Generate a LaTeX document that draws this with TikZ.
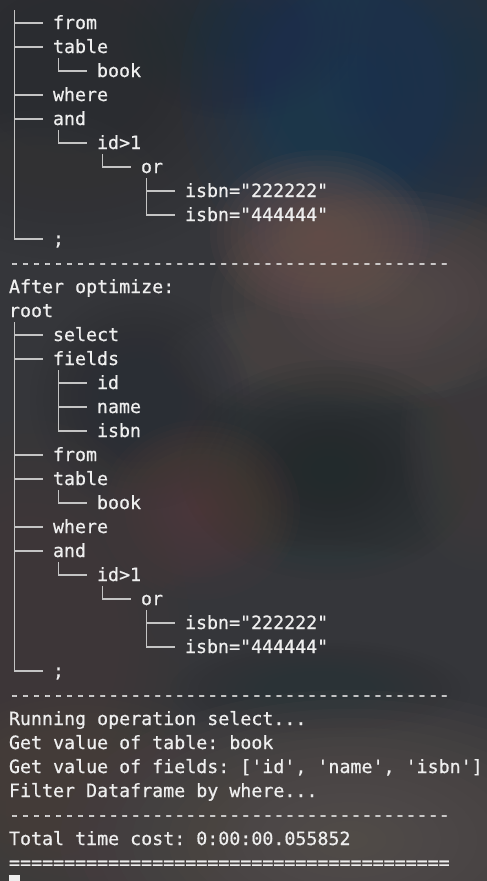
\documentclass[tikz,border=0pt]{standalone}
\usepackage{fontspec}
\setmonofont{DejaVu Sans Mono}[FakeBold=0.6]
\definecolor{bgbase}{HTML}{35363A}
\definecolor{termtext}{HTML}{EEEEEE}
\definecolor{treecol}{HTML}{C4C4C4}
\newcommand\termline[4]{\node[txt] (#1) at ({9+11*#2},{29+24*#3}) {#4};}
\newcommand\branch[2]{\draw[tree] ({14.5+11*#1},{23+24*#2}) -- ({42+11*#1},{23+24*#2});}
\newcommand\trunk[3]{\draw[tree] ({14.5+11*#1},{11+24*#2}) -- ({14.5+11*#1},{23+24*#3});}
\newcommand\blob[5]{\foreach \k in {1,...,16}{\fill[fill={rgb,255:#5}, fill opacity=0.09] (#1,#2) ellipse ({#3*\k/16} and {#4*\k/16});}}
\begin{document}
\begin{tikzpicture}[x=1pt,y=-1pt,
  txt/.style={anchor=base west, inner sep=0pt, outer sep=0pt, text=termtext,
    font=\ttfamily\fontsize{18.3}{24}\selectfont},
  tree/.style={draw=treecol, line width=1.2pt, line cap=rect}]
% background
\fill[bgbase] (0,0) rectangle (487,881);
\useasboundingbox (0,0) rectangle (487,881);
\clip (0,0) rectangle (487,881);
\blob{70}{70}{220}{190}{red,42;green,44;blue,48}
\blob{470}{60}{150}{170}{red,34;green,48;blue,62}
\blob{240}{30}{120}{90}{red,34;green,44;blue,56}
\blob{350}{90}{170}{190}{red,26;green,56;blue,86}
\blob{350}{90}{110}{120}{red,28;green,56;blue,84}
\blob{40}{250}{150}{140}{red,60;green,60;blue,62}
\blob{390}{300}{180}{110}{red,96;green,82;blue,80}
\blob{320}{235}{110}{85}{red,112;green,86;blue,82}
\blob{320}{360}{160}{60}{red,80;green,74;blue,74}
\blob{140}{400}{110}{110}{red,42;green,46;blue,52}
\blob{330}{470}{150}{110}{red,34;green,42;blue,44}
\blob{480}{440}{80}{130}{red,70;green,66;blue,66}
\blob{200}{510}{100}{90}{red,84;green,64;blue,58}
\blob{30}{640}{160}{220}{red,72;green,62;blue,56}
\blob{320}{620}{170}{80}{red,56;green,64;blue,68}
\blob{320}{690}{150}{50}{red,42;green,50;blue,54}
\blob{350}{840}{290}{150}{red,94;green,86;blue,82}
\blob{80}{810}{170}{120}{red,78;green,70;blue,64}
% tree 1
\trunk{0}{0}{9}
\branch{0}{0} \branch{0}{1} \branch{0}{3} \branch{0}{4} \branch{0}{9}
\trunk{4}{2}{2} \branch{4}{2}
\trunk{4}{5}{5} \branch{4}{5}
\trunk{8}{6}{6} \branch{8}{6}
\trunk{12}{7}{8} \branch{12}{7} \branch{12}{8}
\termline{aFrom}{4}{0}{from}
\termline{aTable}{4}{1}{table}
\termline{aBook}{8}{2}{book}
\termline{aWhere}{4}{3}{where}
\termline{aAnd}{4}{4}{and}
\termline{aId}{8}{5}{id>1}
\termline{aOr}{12}{6}{or}
\termline{aIsbnA}{16}{7}{isbn="222222"}
\termline{aIsbnB}{16}{8}{isbn="444444"}
\termline{aSemi}{4}{9}{;}
\termline{sepA}{0}{10}{----------------------------------------}
\termline{after}{0}{11}{After optimize:}
\termline{root}{0}{12}{root}
% tree 2
\trunk{0}{13}{27}
\branch{0}{13} \branch{0}{14} \branch{0}{18} \branch{0}{19} \branch{0}{21} \branch{0}{22} \branch{0}{27}
\trunk{4}{15}{17} \branch{4}{15} \branch{4}{16} \branch{4}{17}
\trunk{4}{20}{20} \branch{4}{20}
\trunk{4}{23}{23} \branch{4}{23}
\trunk{8}{24}{24} \branch{8}{24}
\trunk{12}{25}{26} \branch{12}{25} \branch{12}{26}
\termline{bSelect}{4}{13}{select}
\termline{bFields}{4}{14}{fields}
\termline{bFid}{8}{15}{id}
\termline{bFname}{8}{16}{name}
\termline{bFisbn}{8}{17}{isbn}
\termline{bFrom}{4}{18}{from}
\termline{bTable}{4}{19}{table}
\termline{bBook}{8}{20}{book}
\termline{bWhere}{4}{21}{where}
\termline{bAnd}{4}{22}{and}
\termline{bId}{8}{23}{id>1}
\termline{bOr}{12}{24}{or}
\termline{bIsbnA}{16}{25}{isbn="222222"}
\termline{bIsbnB}{16}{26}{isbn="444444"}
\termline{bSemi}{4}{27}{;}
\termline{sepB}{0}{28}{----------------------------------------}
\termline{run}{0}{29}{Running operation select...}
\termline{getT}{0}{30}{Get value of table: book}
\termline{getF}{0}{31}{Get value of fields: ['id', 'name', 'isbn']}
\termline{filt}{0}{32}{Filter Dataframe by where...}
\termline{sepC}{0}{33}{----------------------------------------}
\termline{total}{0}{34}{Total time cost: 0:00:00.055852}
\termline{sepD}{0}{35}{========================================}
% cursor
\fill[termtext] (9,875) rectangle (20,881);
\end{tikzpicture}
\end{document}
